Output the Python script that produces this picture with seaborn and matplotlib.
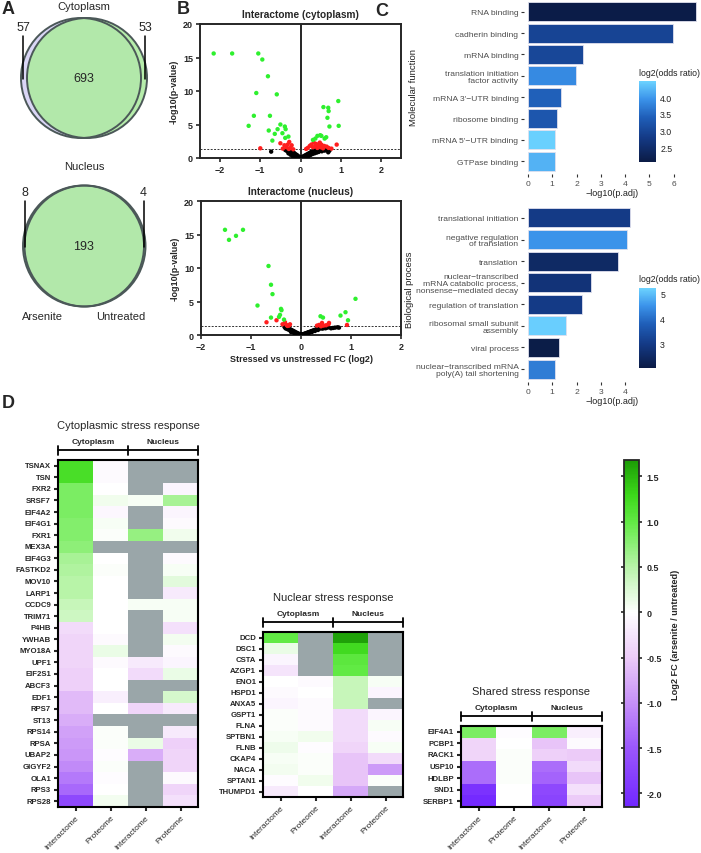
import numpy as np
import pandas as pd
import matplotlib
matplotlib.use("Agg")
import matplotlib.pyplot as plt
import seaborn as sns
from matplotlib.patches import Circle
from matplotlib.colors import LinearSegmentedColormap, Normalize
from matplotlib.cm import ScalarMappable

W, H = 701, 854
NA = np.nan

# ---------------- A: Venn counts (arsenite only, shared, untreated only) ----------------
venn_cyto = (57, 693, 53)
venn_nuc = (8, 193, 4)

# ---------------- B: volcano points (log2 FC, -log10 p) ----------------
p_threshold = 0.05

cyto_green = [(-2.16, 15.6), (-1.70, 15.6), (-1.05, 15.6), (-0.95, 14.7), (-0.81, 12.2),
              (-1.10, 9.7), (-0.59, 9.5), (-1.16, 6.3), (-0.76, 6.3), (-1.29, 4.8),
              (-0.50, 5.0), (-0.39, 4.7), (-0.57, 4.3), (-0.79, 4.1), (-0.37, 4.3),
              (-0.64, 3.6), (-0.45, 3.7), (-0.70, 2.6), (-0.38, 3.0), (-0.30, 3.2),
              (0.94, 8.5), (0.57, 7.6), (0.69, 7.5), (0.70, 7.0), (0.67, 6.0),
              (0.72, 4.7), (0.95, 4.8), (0.42, 3.3), (0.49, 3.4), (0.52, 3.3),
              (0.37, 2.9), (0.60, 2.9), (0.64, 3.1), (0.31, 2.7)]
cyto_red = [(-1.00, 1.45), (-0.50, 2.2), (-0.28, 2.4), (-0.32, 2.0), (-0.22, 1.9),
            (-0.35, 1.6), (-0.44, 1.4), (-0.25, 1.5), (-0.18, 1.3), (-0.29, 1.35),
            (-0.40, 1.9), (0.90, 2.0), (0.18, 1.5), (0.23, 1.8), (0.27, 2.0),
            (0.33, 2.3), (0.39, 2.1), (0.45, 1.9), (0.52, 2.0), (0.59, 1.8),
            (0.65, 1.7), (0.70, 1.5), (0.77, 1.4), (0.31, 1.6), (0.42, 1.5),
            (0.50, 1.6), (0.14, 1.35), (0.37, 1.75), (0.48, 2.3), (0.56, 1.45)]
cyto_black = [(-0.73, 0.95), (-0.38, 1.2), (-0.35, 1.1), (-0.33, 1.25), (-0.31, 0.95),
              (-0.30, 1.15), (-0.28, 1.0), (-0.27, 0.8), (-0.25, 0.95), (-0.24, 1.2),
              (-0.22, 0.75), (-0.21, 1.0), (-0.20, 0.6), (-0.18, 0.85), (-0.17, 0.5),
              (-0.15, 0.7), (-0.14, 0.4), (-0.12, 0.55), (-0.11, 0.3), (-0.09, 0.45),
              (-0.08, 0.2), (-0.06, 0.3), (-0.05, 0.12), (-0.03, 0.15), (-0.02, 0.05),
              (0.00, 0.02), (0.02, 0.06), (0.03, 0.12), (0.05, 0.1), (0.06, 0.2),
              (0.08, 0.18), (0.09, 0.3), (0.11, 0.25), (0.12, 0.4), (0.14, 0.35),
              (0.15, 0.5), (0.17, 0.42), (0.18, 0.6), (0.20, 0.5), (0.21, 0.7),
              (0.23, 0.6), (0.24, 0.8), (0.26, 0.7), (0.27, 0.9), (0.29, 0.8),
              (0.30, 1.0), (0.32, 0.9), (0.34, 1.1), (0.36, 0.95), (0.38, 1.15),
              (0.40, 1.0), (0.42, 1.2), (0.45, 1.05), (0.48, 1.2), (0.50, 1.1),
              (0.53, 1.0), (0.56, 1.2), (0.60, 1.1), (0.64, 1.2), (0.69, 0.85),
              (0.72, 1.1), (-0.20, 0.3), (-0.15, 0.15), (-0.10, 0.1), (0.10, 0.08),
              (0.15, 0.2), (0.20, 0.3), (0.25, 0.45), (0.30, 0.6), (0.35, 0.7),
              (-0.25, 0.5), (-0.30, 0.7), (0.40, 0.8), (0.45, 0.9)]

nuc_green = [(-1.52, 15.7), (-1.44, 14.2), (-1.30, 14.8), (-1.16, 15.7), (-0.87, 4.4),
             (-0.65, 10.3), (-0.60, 7.5), (-0.57, 6.1), (-0.40, 3.9), (-0.39, 3.7),
             (-0.44, 2.7), (-0.42, 3.0), (-0.60, 2.6), (-0.34, 2.3), (1.09, 5.4),
             (0.39, 2.8), (0.44, 2.6), (0.79, 2.9), (0.89, 3.4), (0.94, 2.2)]
nuc_red = [(-0.69, 1.9), (-0.49, 2.2), (-0.37, 1.6), (-0.32, 1.9), (-0.29, 1.5),
           (-0.24, 1.4), (-0.22, 1.6), (-0.27, 1.35), (0.92, 1.5), (0.55, 1.6),
           (0.56, 1.8), (0.42, 1.8), (0.36, 1.5), (0.32, 1.4), (0.45, 1.4),
           (0.40, 1.3), (0.50, 1.45)]
nuc_black = [(-0.33, 1.2), (-0.31, 1.0), (-0.30, 1.15), (-0.28, 0.9), (-0.27, 1.05),
             (-0.25, 0.8), (-0.24, 0.95), (-0.22, 0.7), (-0.21, 0.85), (-0.19, 0.6),
             (-0.18, 0.72), (-0.16, 0.5), (-0.15, 0.6), (-0.13, 0.4), (-0.12, 0.48),
             (-0.10, 0.3), (-0.09, 0.36), (-0.07, 0.2), (-0.06, 0.25), (-0.04, 0.12),
             (-0.03, 0.15), (-0.01, 0.04), (0.00, 0.02), (0.02, 0.05), (0.03, 0.1),
             (0.05, 0.1), (0.06, 0.17), (0.08, 0.18), (0.09, 0.25), (0.11, 0.27),
             (0.12, 0.33), (0.14, 0.35), (0.15, 0.42), (0.17, 0.43), (0.18, 0.5),
             (0.20, 0.5), (0.21, 0.58), (0.23, 0.6), (0.24, 0.66), (0.26, 0.68),
             (0.27, 0.75), (0.29, 0.76), (0.30, 0.82), (0.32, 0.85), (0.33, 0.9),
             (0.35, 0.92), (0.37, 0.98), (0.39, 1.0), (0.41, 1.05), (0.43, 0.95),
             (0.46, 1.05), (0.49, 1.0), (0.52, 1.1), (0.55, 1.15), (0.60, 1.0),
             (0.64, 1.05), (0.68, 1.1), (0.73, 1.15), (0.76, 1.1), (-0.20, 0.45),
             (-0.14, 0.3), (0.10, 0.15), (0.16, 0.3), (0.22, 0.45), (0.28, 0.6),
             (0.34, 0.75)]

# ---------------- C: GO enrichment ----------------
mf_terms = ["RNA binding", "cadherin binding", "mRNA binding",
            "translation initiation\nfactor activity", "mRNA 3'\u2212UTR binding",
            "ribosome binding", "mRNA 5'\u2212UTR binding", "GTPase binding"]
mf_padj = [6.92, 5.96, 2.27, 1.97, 1.35, 1.21, 1.10, 1.10]
mf_odds = [2.08, 2.95, 3.0, 3.85, 3.4, 3.25, 4.45, 4.2]

bp_terms = ["translational initiation", "negative regulation\nof translation", "translation",
            "nuclear\u2212transcribed\nmRNA catabolic process,\nnonsense\u2212mediated decay",
            "regulation of translation", "ribosomal small subunit\nassembly", "viral process",
            "nuclear\u2212transcribed mRNA\npoly(A) tail shortening"]
bp_padj = [4.22, 4.06, 3.70, 2.59, 2.23, 1.58, 1.27, 1.10]
bp_odds = [3.0, 4.5, 2.5, 2.8, 3.0, 5.15, 2.1, 4.2]

# ---------------- D: heatmaps (log2 FC arsenite / untreated) ----------------
col_labels = ["Interactome", "Proteome", "Interactome", "Proteome"]

cyto_genes = ["TSNAX", "TSN", "FXR2", "SRSF7", "EIF4A2", "EIF4G1", "FXR1", "MEX3A", "EIF4G3",
              "FASTKD2", "MOV10", "LARP1", "CCDC9", "TRIM71", "P4HB", "YWHAB", "MYO18A", "UPF1",
              "EIF2S1", "ABCF3", "EDF1", "RPS7", "ST13", "RPS14", "RPSA", "UBAP2", "GIGYF2",
              "OLA1", "RPS3", "RPS28"]
cyto_cyt_int = [1.2, 1.2, 0.85, 0.85, 0.85, 0.8, 0.8, 0.75, 0.6, 0.55, 0.5, 0.5, 0.4, 0.35,
                -0.35, -0.4, -0.4, -0.4, -0.45, -0.45, -0.65, -0.65, -0.75, -0.85, -0.9,
                -0.95, -1.05, -1.2, -1.35, -1.7]
cyto_cyt_prot = [-0.05, -0.05, 0.0, 0.1, -0.08, 0.05, 0.03, NA, 0.0, 0.02, 0.0, 0.0, 0.0, 0.0,
                 0.0, -0.05, 0.15, -0.05, 0.0, 0.0, -0.15, 0.0, NA, 0.03, 0.02, -0.03, 0.03,
                 -0.03, 0.0, 0.08]
cyto_nuc_int = [NA, NA, NA, 0.05, NA, NA, 0.7, NA, NA, NA, NA, NA, 0.05, NA, NA, NA, NA,
                -0.2, -0.35, NA, NA, -0.4, NA, NA, 0.15, -0.75, NA, NA, NA, NA]
cyto_nuc_prot = [NA, NA, -0.1, 0.6, -0.1, -0.05, 0.1, NA, -0.05, 0.05, 0.2, -0.2, 0.05, 0.05,
                 -0.3, 0.08, -0.05, -0.1, 0.15, NA, 0.3, -0.2, NA, -0.2, -0.45, -0.4, -0.4,
                 -0.05, -0.4, -0.3]

nucl_genes = ["DCD", "DSC1", "CSTA", "AZGP1", "ENO1", "HSPD1", "ANXA5", "GSPT1", "FLNA",
              "SPTBN1", "FLNB", "CKAP4", "NACA", "SPTAN1", "THUMPD1"]
nucl_cyt_int = [1.0, 0.15, -0.1, -0.25, 0.0, -0.05, -0.1, 0.03, 0.03, 0.05, 0.12, 0.05, 0.08,
                -0.03, -0.2]
nucl_cyt_prot = [NA, NA, NA, NA, -0.05, 0.0, -0.05, -0.05, -0.05, 0.1, -0.03, 0.03, 0.03, 0.1, 0.0]
nucl_nuc_int = [1.65, 1.25, 1.05, 1.0, 0.4, 0.4, 0.4, -0.35, -0.35, -0.35, -0.4, -0.55, -0.55,
                -0.55, -0.8]
nucl_nuc_prot = [NA, NA, NA, NA, 0.05, -0.1, NA, -0.1, 0.05, -0.05, 0.05, -0.35, -0.9, 0.03, NA]

shared_genes = ["EIF4A1", "PCBP1", "RACK1", "USP10", "HDLBP", "SND1", "SERBP1"]
shared_cyt_int = [0.85, -0.4, -0.4, -1.3, -1.3, -2.0, -2.1]
shared_cyt_prot = [-0.03, 0.0, 0.02, 0.02, 0.02, 0.0, 0.0]
shared_nuc_int = [0.85, -0.55, -0.45, -1.3, -1.4, -1.7, -1.75]
shared_nuc_prot = [-0.15, -0.05, -0.5, -0.35, -0.55, -0.3, -0.5]

# ---------------- style ----------------
sns.set_theme(style="ticks")
plt.rcParams['font.family'] = ['Liberation Sans', 'DejaVu Sans']
plt.rcParams['axes.linewidth'] = 1.4

fig = plt.figure(figsize=(W / 100, H / 100), dpi=100)


def add_ax(left, top, right, bottom):
    """Axes placed by pixel box (origin top-left)."""
    return fig.add_axes([left / W, 1 - bottom / H, (right - left) / W, (bottom - top) / H])


def panel_letter(x, y, s):
    fig.text(x / W, 1 - y / H, s, fontsize=13, fontweight='bold', va='center', ha='left')


# ---------------- A ----------------
axA = add_ax(0, 0, 180, 340)
axA.set_xlim(0, 180)
axA.set_ylim(340, 0)
axA.axis('off')


def venn(ax, cy, counts, title, cx_left, cx_right, r, title_y, lab_y):
    left, mid, right = counts
    ax.add_patch(Circle((cx_left, cy), r, facecolor='#dad6f6', edgecolor='none'))
    ax.add_patch(Circle((cx_right, cy), r, facecolor='#aeeba2', edgecolor='none', alpha=0.9))
    for cx in (cx_left, cx_right):
        ax.add_patch(Circle((cx, cy), r, facecolor='none', edgecolor='#4b5858', lw=1.4))
    ax.text(84, title_y, title, ha='center', va='center', fontsize=8)
    ax.text(84, cy, str(mid), ha='center', va='center', fontsize=9)
    ax.text(cx_left - r + 2, lab_y, str(left), ha='center', va='center', fontsize=9)
    ax.text(cx_right + r - 2, lab_y, str(right), ha='center', va='center', fontsize=9)
    ax.plot([cx_left - r + 2] * 2, [lab_y + 9, cy + 1], color='black', lw=1.1)
    ax.plot([cx_right + r - 2] * 2, [lab_y + 9, cy + 1], color='black', lw=1.1)


venn(axA, 79, venn_cyto, "Cytoplasm", 81, 87, 60, 7, 28)
venn(axA, 247, venn_nuc, "Nucleus", 83.5, 85, 60.5, 167, 193)
axA.text(42, 317, "Arsenite", ha='center', va='center', fontsize=8)
axA.text(121, 317, "Untreated", ha='center', va='center', fontsize=8)

# ---------------- B ----------------
def volcano(ax, green, red, black, xlim, title):
    pts = ([(x, y, 'ns') for x, y in black] + [(x, y, 'sig') for x, y in red]
           + [(x, y, 'hit') for x, y in green])
    df = pd.DataFrame(pts, columns=['fc', 'logp', 'group'])
    ax.axvline(0, color='black', lw=1.2, zorder=1)
    ax.axhline(-np.log10(p_threshold), color='#333333', lw=0.7, ls=(0, (2, 1.5)), zorder=1)
    sns.scatterplot(data=df, x='fc', y='logp', hue='group',
                    palette={'ns': 'black', 'sig': '#ff1e1e', 'hit': '#2ef02e'},
                    s=10, linewidth=0, legend=False, ax=ax, zorder=3)
    ax.set_xlim(*xlim)
    ax.set_ylim(0, 20)
    ax.set_xticks([-2, -1, 0, 1, 2])
    ax.set_yticks([0, 5, 10, 15, 20])
    ax.set_title(title, fontsize=7.3, fontweight='bold', pad=5)
    ax.set_ylabel('-log10(p-value)', fontsize=6.5, fontweight='bold', labelpad=3)
    ax.set_xlabel('')
    ax.tick_params(length=3, width=1.2, labelsize=6.5, pad=2)
    for lab in ax.get_xticklabels() + ax.get_yticklabels():
        lab.set_fontweight('bold')


axB1 = add_ax(200, 25, 401, 159)
volcano(axB1, cyto_green, cyto_red, cyto_black, (-2.5, 2.5), "Interactome (cytoplasm)")
axB2 = add_ax(201, 202, 401, 336)
volcano(axB2, nuc_green, nuc_red, nuc_black, (-2, 2), "Interactome (nucleus)")
axB2.set_xlabel('Stressed vs unstressed FC (log2)', fontsize=6.5, fontweight='bold', labelpad=2)

# ---------------- C ----------------
go_cmap = LinearSegmentedColormap.from_list(
    'go', [(0.0, '#0b1b45'), (0.3, '#143a86'), (0.55, '#1f5eb8'), (0.78, '#3b93ea'),
           (1.0, '#6cd3ff')])


def go_bars(ax, cax, terms, padj, odds, lo, hi, xticks, cticks, clabels):
    norm = Normalize(lo, hi)
    colors = [go_cmap(norm(v)) for v in odds]
    df = pd.DataFrame({'term': terms, 'padj': padj})
    sns.barplot(data=df, x='padj', y='term', hue='term', palette=colors, legend=False,
                orient='h', width=0.88, saturation=1, edgecolor='#e0e0ee', linewidth=0.6,
                ax=ax)
    ax.set_ylim(7.6, -0.6)
    ax.set_xlim(-0.16, 7.08)
    ax.set_xticks(xticks)
    ax.set_ylabel('')
    ax.set_xlabel('\u2212log10(p.adj)', fontsize=6.5, color='#222222', labelpad=1)
    sns.despine(ax=ax, left=True, bottom=True)
    ax.tick_params(length=2, width=0.8, color='#333333', labelcolor='#4d4d4d',
                   labelsize=6.1, pad=2)
    for lab in ax.get_yticklabels():
        lab.set_linespacing(0.95)
    cb = fig.colorbar(ScalarMappable(norm=norm, cmap=go_cmap), cax=cax)
    cb.outline.set_visible(False)
    cb.set_ticks(cticks)
    cb.set_ticklabels(clabels)
    cax.tick_params(direction='in', color='white', length=3, width=0.6, left=True, right=True,
                    labelsize=6.3, labelcolor='#222222', pad=3)


axC1 = add_ax(524, 0, 700, 175)
caxC1 = add_ax(639, 82, 656, 163)
go_bars(axC1, caxC1, mf_terms, mf_padj, mf_odds, 2.05, 4.48, [0, 1, 2, 3, 4, 5, 6],
        [2.5, 3.0, 3.5, 4.0], ['2.5', '3.0', '3.5', '4.0'])
fig.text(639 / W, 1 - 73 / H, 'log2(odds ratio)', fontsize=6.3, color='#222222', va='center')
fig.text(413 / W, 1 - 88 / H, 'Molecular function', rotation=90, fontsize=6.8,
         color='#222222', ha='center', va='center')

axC2 = add_ax(524, 206, 700, 383)
caxC2 = add_ax(639, 289, 656, 369)
go_bars(axC2, caxC2, bp_terms, bp_padj, bp_odds, 2.05, 5.2, [0, 1, 2, 3, 4],
        [3, 4, 5], ['3', '4', '5'])
fig.text(639 / W, 1 - 280 / H, 'log2(odds ratio)', fontsize=6.3, color='#222222', va='center')
fig.text(410 / W, 1 - 290 / H, 'Biological process', rotation=90, fontsize=6.8,
         color='#222222', ha='center', va='center')

# ---------------- D ----------------
fc_lo, fc_hi = -2.15, 1.68
fc_stops = [(-2.15, '#7127ff'), (-1.5, '#9b57fc'), (-1.0, '#c690f8'), (-0.5, '#eccbf8'),
            (0.0, '#ffffff'), (0.5, '#b9f4aa'), (1.0, '#62ea45'), (1.3, '#3cd81a'),
            (1.68, '#1c9c06')]
fc_cmap = LinearSegmentedColormap.from_list(
    'fc', [((v - fc_lo) / (fc_hi - fc_lo), c) for v, c in fc_stops])


def heat(box, genes, c_int, c_prot, n_int, n_prot, title):
    left, top, right, bottom = box
    h_px = bottom - top
    ax = add_ax(*box)
    df = pd.DataFrame({'ci': c_int, 'cp': c_prot, 'ni': n_int, 'np': n_prot}, index=genes)
    ax.set_facecolor('#9aa6a9')
    sns.heatmap(df, cmap=fc_cmap, vmin=fc_lo, vmax=fc_hi, cbar=False, ax=ax,
                xticklabels=col_labels, yticklabels=genes)
    for sp in ax.spines.values():
        sp.set_visible(True)
        sp.set_linewidth(1.5)
        sp.set_color('black')
    ax.tick_params(bottom=True, left=True, length=3, width=1.5, pad=2, labelsize=5.6)
    ax.set_yticklabels(genes, rotation=0, fontweight='bold', fontsize=5.6)
    ax.set_xticklabels(col_labels, rotation=45, ha='right', rotation_mode='anchor', fontsize=6)
    ax.set_xlabel('')
    ax.set_ylabel('')
    tr = ax.get_xaxis_transform()
    y_line = 1 + 10 / h_px
    tk = 4.5 / h_px
    ax.plot([0, 4], [y_line, y_line], transform=tr, clip_on=False, color='black', lw=1.3)
    for xv in (0, 2, 4):
        ax.plot([xv, xv], [y_line - tk, y_line + tk], transform=tr, clip_on=False,
                color='black', lw=1.3)
    ax.text(1, 1 + 18 / h_px, 'Cytoplasm', transform=tr, ha='center', va='center',
            fontsize=6, fontweight='bold')
    ax.text(3, 1 + 18 / h_px, 'Nucleus', transform=tr, ha='center', va='center',
            fontsize=6, fontweight='bold')
    ax.text(2, 1 + 35 / h_px, title, transform=tr, ha='center', va='center', fontsize=8)
    return ax


heat((58, 461, 198, 808), cyto_genes, cyto_cyt_int, cyto_cyt_prot, cyto_nuc_int, cyto_nuc_prot,
     "Cytoplasmic stress response")
heat((263, 633, 403, 798), nucl_genes, nucl_cyt_int, nucl_cyt_prot, nucl_nuc_int, nucl_nuc_prot,
     "Nuclear stress response")
heat((461, 727, 602, 808), shared_genes, shared_cyt_int, shared_cyt_prot, shared_nuc_int,
     shared_nuc_prot, "Shared stress response")

caxD = add_ax(624, 461, 639, 808)
cbD = fig.colorbar(ScalarMappable(norm=Normalize(fc_lo, fc_hi), cmap=fc_cmap), cax=caxD)
cbD.outline.set_linewidth(1.3)
cbD.set_ticks([-2, -1.5, -1, -0.5, 0, 0.5, 1, 1.5])
cbD.set_ticklabels(['-2.0', '-1.5', '-1.0', '-0.5', '0', '0.5', '1.0', '1.5'])
caxD.tick_params(left=True, right=True, length=2.5, width=1.2, labelsize=6.5, pad=3)
for lab in caxD.get_yticklabels():
    lab.set_fontweight('bold')
cbD.set_label('Log2 FC (arsenite / untreated)', fontsize=6.6, fontweight='bold', labelpad=6)

panel_letter(2, 10, 'A')
panel_letter(177, 10, 'B')
panel_letter(375, 12, 'C')
panel_letter(2, 404, 'D')

fig.savefig('out.png', dpi=100)
